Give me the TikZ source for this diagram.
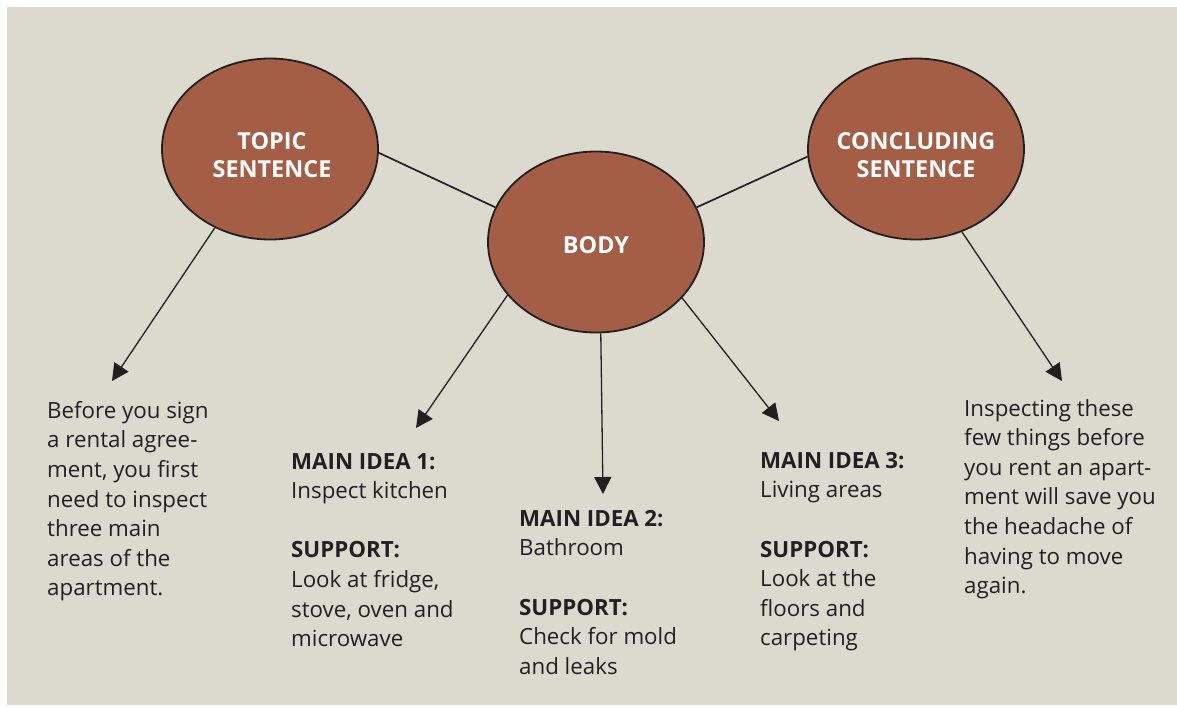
\documentclass[tikz,border=0pt]{standalone}
\usepackage{fontspec}
\setmainfont{Open Sans}
\usetikzlibrary{shapes.geometric,arrows.meta}
\definecolor{paper}{HTML}{DCDACE}
\definecolor{clay}{HTML}{A55E46}
\definecolor{ink}{HTML}{231F20}
\tikzset{
  bubble/.style={ellipse, draw=ink, line width=1.8pt, fill=clay,
    minimum width=216pt, minimum height=181pt, inner sep=0pt},
  bubbletext/.style={text=white, font=\fontsize{23.4}{28.5}\selectfont\bfseries,
    align=center, inner sep=0pt},
  link/.style={draw=ink, line width=1.7pt},
  pointer/.style={draw=ink, line width=1.3pt, -{Triangle[length=17pt,width=17pt]}},
  note/.style={text=ink, font=\fontsize{22.3}{29.6}\selectfont, align=left,
    anchor=north west, inner sep=0pt},
}
\begin{document}
\begin{tikzpicture}[x=1pt,y=-1pt]
  % page and panel
  \fill[white] (0,0) rectangle (1177,707);
  \fill[paper] (7,7) rectangle (1177,705);
  \useasboundingbox (0,0) rectangle (1177,707);

  % the three parts of the paragraph
  \node[bubble] (topic) at (270,149) {};
  \node[bubble] (body) at (596,242) {};
  \node[bubble] (concl) at (916,149) {};
  \node[bubbletext] (topiclbl) at (272,155) {TOPIC\\SENTENCE};
  \node[bubbletext] (bodylbl) at (596,245) {BODY};
  \node[bubbletext] (concllbl) at (916,155) {CONCLUDING\\SENTENCE};

  % links between the parts
  \draw[link] (topic.-2) -- (body.161);
  \draw[link] (body.19) -- (concl.184);

  % arrow ends
  \coordinate (tipT) at (112,381);
  \coordinate (tipM1) at (416,428);
  \coordinate (tipM2) at (603,494);
  \coordinate (tipM3) at (779,421);
  \coordinate (tipC) at (1062,381);

  \draw[pointer] (topic.-125) -- (tipT);
  \draw[pointer] (body.-149) -- (tipM1);
  \draw[pointer] (body.-87) -- (tipM2);
  \draw[pointer] (body.-33) -- (tipM3);
  \draw[pointer] (concl.-61) -- (tipC);

  % texts
  \node[note] (topictext) at (47,401) {Before you sign\\a rental agree-\\ment, you first\\need to inspect\\three main\\areas of the\\apartment.};
  \node[note] (idea1) at (291,453) {\textbf{MAIN IDEA 1:}\\Inspect kitchen\\[29.6pt]\textbf{SUPPORT:}\\Look at fridge,\\stove, oven and\\microwave};
  \node[note] (idea2) at (519,510) {\textbf{MAIN IDEA 2:}\\Bathroom\\[29.6pt]\textbf{SUPPORT:}\\Check for mold\\and leaks};
  \node[note] (idea3) at (760,452) {\textbf{MAIN IDEA 3:}\\Living areas\\[29.6pt]\textbf{SUPPORT:}\\Look at the\\floors and\\carpeting};
  \node[note] (concltext) at (964,399) {Inspecting these\\few things before\\you rent an apart-\\ment will save you\\the headache of\\having to move\\again.};
\end{tikzpicture}
\end{document}
